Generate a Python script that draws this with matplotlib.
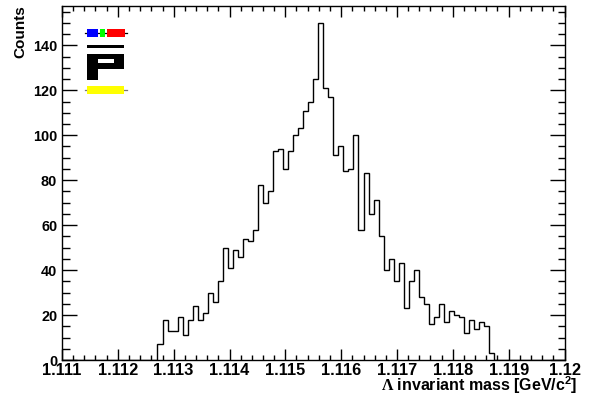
import numpy as np
import matplotlib
matplotlib.use("Agg")
import matplotlib.pyplot as plt
from matplotlib.patches import Rectangle
from matplotlib.lines import Line2D
from matplotlib.ticker import MultipleLocator, FixedLocator, FixedFormatter

# ---------------- data ----------------
x_min = 1.111
x_max = 1.120
n_bins = 100
counts = [0] * 19 + [
    7, 18, 13, 13, 19, 11, 18, 24, 18, 21,        # bins 19-28
    30, 26, 35, 50, 41, 49, 46, 54, 53, 58,       # bins 29-38
    78, 70, 75, 93, 94, 85, 93, 100, 103, 111,    # bins 39-48
    115, 125, 150, 121, 117, 91, 95, 84, 85, 100, # bins 49-58
    58, 83, 65, 71, 55, 40, 45, 35, 43, 23,       # bins 59-68
    35, 40, 28, 25, 16, 19, 25, 17, 22, 20,       # bins 69-78
    19, 12, 18, 14, 17, 15, 3,                    # bins 79-85
] + [0] * 14
x_ticks = [1.111, 1.112, 1.113, 1.114, 1.115, 1.116, 1.117, 1.118, 1.119, 1.120]
x_tick_labels = ["1.111", "1.112", "1.113", "1.114", "1.115", "1.116",
                 "1.117", "1.118", "1.119", "1.12"]
y_ticks = [0, 20, 40, 60, 80, 100, 120, 140]
y_tick_labels = ["0", "20", "40", "60", "80", "100", "120", "140"]
x_title = r"$\mathrm{\Lambda}$ invariant mass [GeV/c$^{\mathbf{2}}$]"
y_title = "Counts"

# ---------------- style ----------------
plt.rcParams['font.family'] = ['Liberation Sans', 'DejaVu Sans']
plt.rcParams['font.weight'] = 'bold'
plt.rcParams['mathtext.fontset'] = 'custom'
plt.rcParams['mathtext.rm'] = 'Liberation Serif'
plt.rcParams['mathtext.bf'] = 'Liberation Sans:bold'

W, H = 592, 401
fig = plt.figure(figsize=(W / 100, H / 100), dpi=100)
L, R, T, B = 62, 564.5, 6, 360
ax = fig.add_axes([L / W, 1 - B / H, (R - L) / W, (B - T) / H])

edges = np.linspace(x_min, x_max, n_bins + 1)
ax.stairs(counts, edges, color='black', linewidth=1.0)

ax.set_xlim(x_min, x_max)
ax.set_ylim(0, max(counts) * 1.05)

ax.xaxis.set_major_locator(FixedLocator(x_ticks))
ax.xaxis.set_major_formatter(FixedFormatter(x_tick_labels))
ax.xaxis.set_minor_locator(MultipleLocator(0.0002))
ax.yaxis.set_major_locator(FixedLocator(y_ticks))
ax.yaxis.set_major_formatter(FixedFormatter(y_tick_labels))
ax.yaxis.set_minor_locator(MultipleLocator(5))

ax.tick_params(axis='both', which='both', direction='in', top=True, right=True,
               colors='black')
ax.tick_params(axis='x', which='major', length=7.6, width=1.0, pad=2.5,
               labelsize=11.8)
ax.tick_params(axis='x', which='minor', length=3.8, width=1.0)
ax.tick_params(axis='y', which='major', length=10.8, width=1.0, pad=3.5,
               labelsize=10.4)
ax.tick_params(axis='y', which='minor', length=5.4, width=1.0)
for lab in ax.get_xticklabels() + ax.get_yticklabels():
    lab.set_fontweight('bold')
for s in ax.spines.values():
    s.set_linewidth(1.0)
    s.set_color('black')

fig.text(577 / W, 1 - 385 / H, x_title, ha='right', va='center',
         fontsize=11.5, fontweight='bold')
fig.text(20 / W, 1 - 5 / H, y_title, ha='center', va='top', rotation=90,
         fontsize=11, fontweight='bold')

# ---------------- logo (decoration, figure pixel coordinates) ----------------
def rect(x0, y0, x1, y1, color):
    fig.add_artist(Rectangle((x0 / W, 1 - y1 / H), (x1 - x0) / W, (y1 - y0) / H,
                             transform=fig.transFigure, facecolor=color,
                             edgecolor='none', zorder=5))

def hline(x0, x1, y, color):
    fig.add_artist(Line2D([x0 / W, x1 / W], [1 - y / H, 1 - y / H],
                          transform=fig.transFigure, color=color, lw=0.9, zorder=4))

hline(85.3, 126.7, 33.3, 'black')
rect(87, 29, 97.7, 37, '#0000ff')
rect(100, 29, 105, 37, '#00ff00')
rect(107, 29, 124.7, 37, '#ff0000')
rect(87, 44.7, 123.7, 47.7, 'black')
rect(87, 53.7, 123.7, 69, 'black')
rect(98, 58.7, 113.7, 63, 'white')
rect(87, 69, 98, 80, 'black')
hline(85.3, 126.7, 90, '#777777')
rect(87, 86, 123.7, 93.7, '#ffff00')

fig.savefig('out.png', dpi=100)
